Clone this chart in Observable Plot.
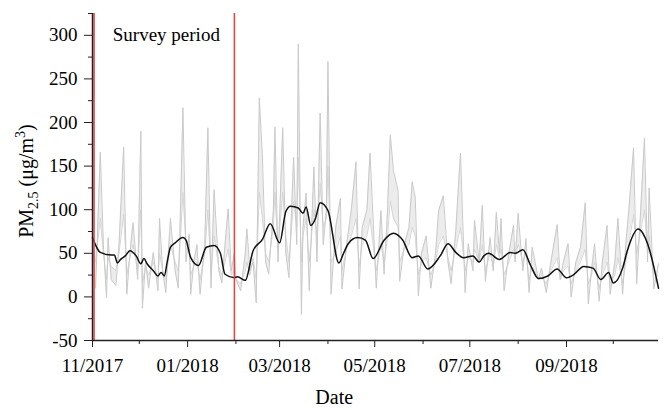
<!DOCTYPE html>
<html><head><meta charset="utf-8">
<script src="https://cdn.jsdelivr.net/npm/d3@7"></script>
<script src="https://cdn.jsdelivr.net/npm/@observablehq/plot@0.6"></script>
<style>body{margin:0;background:#fff}#chart{width:665px;height:410px}</style>
</head><body><div id="chart"></div>
<script>
// ---- data ----
const startDate = "2017-11-01";
// day offsets from startDate for the daily gray series
const dayOffsets = [0,2,5,7,9,10,12,15,17,20,22,24,26,29,31,32,34,36,39,42,43,45,47,50,53,55,56,58,60,62,63,65,67,69,72,74,76,78,81,83,85,87,89,91,92,95,98,99,101,103,105,107,109,111,113,116,117,119,122,124,126,129,131,132,134,135,137,139,142,144,146,148,150,151,153,156,159,160,163,166,169,171,173,176,178,182,185,187,189,191,193,196,197,200,203,205,207,209,211,214,217,220,222,225,228,230,233,236,239,241,244,245,248,250,252,255,257,259,261,262,264,267,270,271,273,276,278,280,282,286,288,291,294,298,300,302,305,307,310,313,316,318,320,322,325,327,330,332,335,337,340,342,344,347,349,351,354,356,357,360,363];
const siteA = [70,10,166,60,-1,68,20,13,60,172,3,50,85,20,190,-13,40,10,51,7,90,30,5,90,30,10,70,217,40,72,3,40,60,3,60,194,10,123,30,16,60,101,30,50,20,7,50,78,30,40,-7,228,160,40,26,100,195,40,194,50,22,160,60,290,-20,80,119,7,149,40,211,60,100,270,3,80,113,9,60,100,155,9,80,100,165,10,99,26,90,186,145,122,18,60,80,132,114,1,50,70,10,50,99,116,40,15,76,165,5,61,30,88,40,105,18,68,30,97,50,90,7,50,82,40,96,30,67,5,57,20,33,5,40,83,20,40,61,0,40,57,108,-8,30,61,-5,40,82,3,40,90,3,60,100,171,15,80,182,40,125,9,38];
const siteB = [60,40,90,50,20,45,35,30,50,95,25,45,60,30,100,15,35,25,40,20,50,30,20,60,40,30,55,120,60,55,25,35,40,20,50,100,30,70,35,25,40,55,25,30,20,15,30,40,25,45,20,120,90,50,40,80,120,55,120,70,40,110,80,160,40,70,90,40,100,70,130,80,90,150,40,50,70,30,55,70,90,35,60,70,90,30,60,40,65,110,90,80,40,55,60,80,70,25,40,45,25,40,60,70,45,30,55,80,30,45,40,55,40,60,30,50,35,60,45,55,25,40,55,45,60,40,50,20,35,20,25,15,30,45,20,30,35,15,30,40,55,15,25,40,10,25,40,15,25,45,15,40,60,95,50,70,100,50,70,20,15];
// smoothed (black) curve
const smoothDays = [0,5,12,14,16,18,21,24,28,31,33,35,39,42,44,46,48,50,53,58,60,63,68,73,78,82,85,91,93,98,103,109,114,120,124,127,132,135,137,140,143,146,151,158,161,164,170,175,180,187,193,199,205,209,215,223,228,233,238,244,248,251,254,261,268,271,276,281,286,292,298,304,309,315,321,326,331,334,340,343,350,356,363];
const smoothValues = [68,51,48,48,39,43,47,53,47,38,44,38,30,24,28,24,41,57,62,68,65,45,36,57,59,50,26,22,23,19,53,66,84,62,98,104,102,96,103,82,90,108,99,39,50,61,68,65,44,65,73,65,45,47,32,47,61,51,45,47,40,47,50,43,51,50,54,36,21,24,32,22,26,35,33,20,28,16,33,53,78,61,10];
const surveyBounds = ["2017-11-02", "2018-01-31"];
const yMajorTicks = [-50, 0, 50, 100, 150, 200, 250, 300];
const yMinorTicks = [-25, 25, 75, 125, 175, 225, 275, 325];
const xMajorTicks = ["2017-11-01", "2018-01-01", "2018-03-01", "2018-05-01", "2018-07-01", "2018-09-01"];
const xMinorTicks = ["2017-12-01", "2018-02-01", "2018-04-01", "2018-06-01", "2018-08-01", "2018-10-01"];
const xDomain = ["2017-11-01", "2018-10-30"];
const annotation = "Survey period";
const xLabel = "Date";
const yLabelParts = ["PM", "2.5", " (μg/m", "3", ")"];

// ---- build tables ----
const t0 = new Date(startDate);
const toDate = d => new Date(t0.getTime() + d * 864e5);
const daily = dayOffsets.map((d, i) => ({date: toDate(d), a: siteA[i], b: siteB[i]}));
const smooth = smoothDays.map((d, i) => ({date: toDate(d), v: smoothValues[i]}));
const axisColor = "#222";

const chart = Plot.plot({
  width: 665, height: 410,
  marginLeft: 92, marginRight: 7, marginTop: 13, marginBottom: 70,
  style: {fontFamily: "'Liberation Serif', 'Times New Roman', serif", fontSize: "19px", color: "#000", background: "#fff"},
  x: {type: "utc", domain: xDomain.map(d => new Date(d))},
  y: {domain: [-50, 325]},
  marks: [
    Plot.areaY(daily, {x: "date", y1: "a", y2: "b", fill: "#ececec"}),
    Plot.lineY(daily, {x: "date", y: "b", stroke: "#d6d6d6", strokeWidth: 1}),
    Plot.lineY(daily, {x: "date", y: "a", stroke: "#c9c9c9", strokeWidth: 1}),
    Plot.lineY(smooth, {x: "date", y: "v", stroke: "#111", strokeWidth: 1.5, curve: "monotone-x"}),
    Plot.ruleX(surveyBounds.map(d => new Date(d)), {stroke: "#f03c3c", strokeWidth: 1.5}),
    Plot.axisY({ticks: yMinorTicks, tickSize: 4, tickFormat: () => "", label: null, stroke: axisColor}),
    Plot.axisY({ticks: yMajorTicks, tickSize: 8, tickPadding: 7, tickFormat: d => String(d), label: null, stroke: axisColor}),
    Plot.axisX({ticks: xMinorTicks.map(d => new Date(d)), tickSize: 4, tickFormat: () => "", label: null, stroke: axisColor}),
    Plot.axisX({ticks: xMajorTicks.map(d => new Date(d)), tickSize: 7, tickPadding: 11, tickFormat: d3.utcFormat("%m/%Y"), label: null, stroke: axisColor}),
    Plot.ruleX([new Date(xDomain[0])], {stroke: axisColor, strokeWidth: 1.5}),
    Plot.ruleY([-50], {stroke: axisColor, strokeWidth: 1.5}),
    Plot.text([annotation], {x: new Date("2017-11-14"), y: 293, text: d => d, textAnchor: "start", lineAnchor: "bottom", fontSize: 19}),
    Plot.text([xLabel], {x: new Date("2018-04-05"), y: -50, dy: 63, text: d => d, lineAnchor: "bottom", fontSize: 20})
  ]
});
document.getElementById("chart").appendChild(chart);

// rotated y-axis label with sub/superscript
const svg = d3.select(chart);
const t = svg.append("text")
  .attr("transform", "translate(33,181) rotate(-90)")
  .attr("text-anchor", "middle")
  .attr("font-size", 20)
  .attr("fill", "#000");
t.append("tspan").text(yLabelParts[0]);
t.append("tspan").attr("font-size", 14).attr("dy", 5).text(yLabelParts[1]);
t.append("tspan").attr("dy", -5).text(yLabelParts[2]);
t.append("tspan").attr("font-size", 14).attr("dy", -8).text(yLabelParts[3]);
t.append("tspan").attr("dy", 8).text(yLabelParts[4]);
</script>
</body></html>
